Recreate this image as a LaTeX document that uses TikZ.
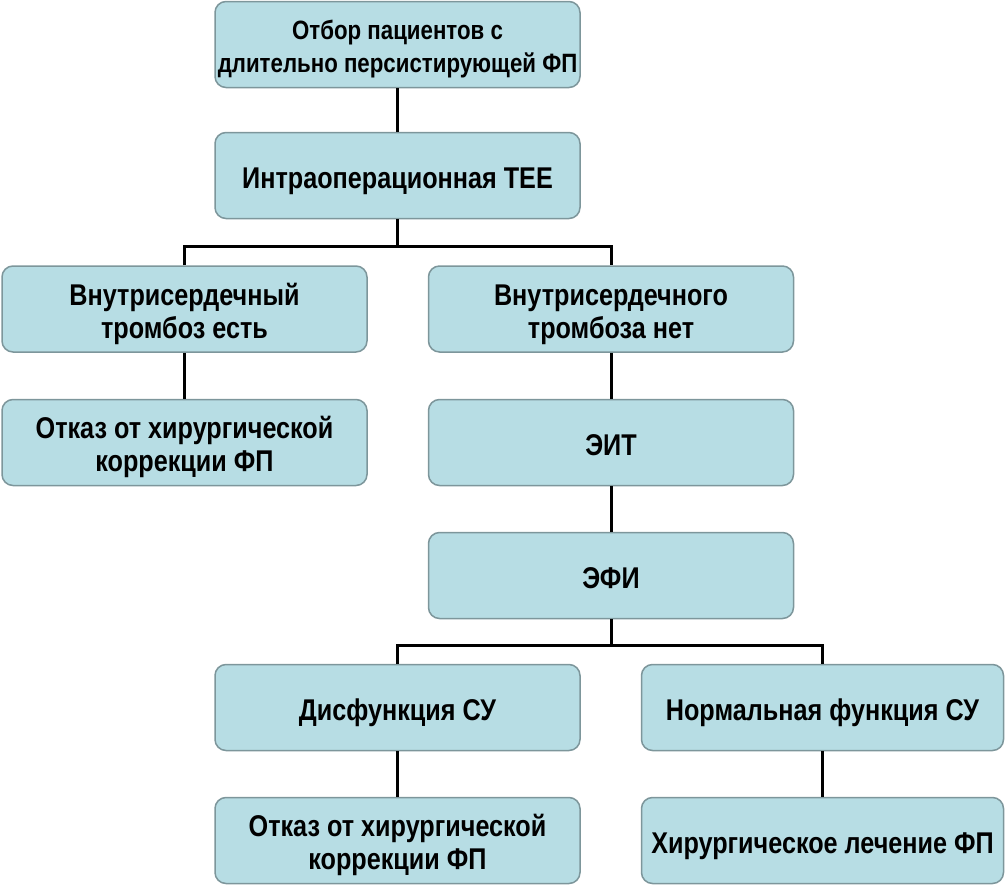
\documentclass[tikz,border=0pt]{standalone}
\usepackage{fontspec}
\setmainfont{Liberation Sans}[FakeStretch=0.84]
\definecolor{boxfill}{RGB}{183,221,228}
\definecolor{boxline}{RGB}{125,150,155}
\newcommand{\boxtxt}[2][34.9pt]{\begin{tabular}{@{}c@{}}\rule{0pt}{#1}#2\end{tabular}}
\begin{document}
\begin{tikzpicture}[x=1pt,y=-1pt,
  box/.style={draw=boxline, fill=boxfill, line width=1.5pt, rounded corners=11pt,
    minimum width=365pt, minimum height=86pt, inner sep=0pt,
    font=\fontsize{30}{33}\selectfont\bfseries},
  link/.style={draw=black, line width=3pt}]
\useasboundingbox (0,0) rectangle (1005,886);
\node[box, font=\fontsize{26.5}{33}\selectfont\bfseries] (n1) at (397.5,44.5) {\boxtxt[32.3pt]{Отбор пациентов с\\длительно персистирующей ФП}};
\node[box] (n2) at (397.5,175.5) {\boxtxt{Интраоперационная TEE}};
\node[box] (n3L) at (184.5,309) {\boxtxt{Внутрисердечный\\тромбоз есть}};
\node[box] (n3R) at (611,309) {\boxtxt{Внутрисердечного\\тромбоза нет}};
\node[box] (n4L) at (184.5,442.5) {\boxtxt{Отказ от хирургической\\коррекции ФП}};
\node[box] (eit) at (611,442.5) {\boxtxt{ЭИТ}};
\node[box] (efi) at (611,575.5) {\boxtxt{ЭФИ}};
\node[box] (dis) at (397.5,707.5) {\boxtxt{Дисфункция СУ}};
\node[box, minimum width=362pt] (norm) at (822.5,707.5) {\boxtxt{Нормальная функция СУ}};
\node[box] (otk) at (397.5,840.5) {\boxtxt{Отказ от хирургической\\коррекции ФП}};
\node[box, minimum width=362pt] (hir) at (822.5,840.5) {\boxtxt{Хирургическое лечение ФП}};
\coordinate (j1) at (397.5,246);
\coordinate (j2) at (611,645);
\draw[link] (n1) -- (n2);
\draw[link] (n2) -- (j1);
\draw[link] (n3L.north) |- (j1) -| (n3R.north);
\draw[link] (n3L) -- (n4L);
\draw[link] (n3R) -- (eit);
\draw[link] (eit) -- (efi);
\draw[link] (efi) -- (j2);
\draw[link] (dis.north) |- (j2) -| (norm.north);
\draw[link] (dis) -- (otk);
\draw[link] (norm) -- (hir);
\end{tikzpicture}
\end{document}
